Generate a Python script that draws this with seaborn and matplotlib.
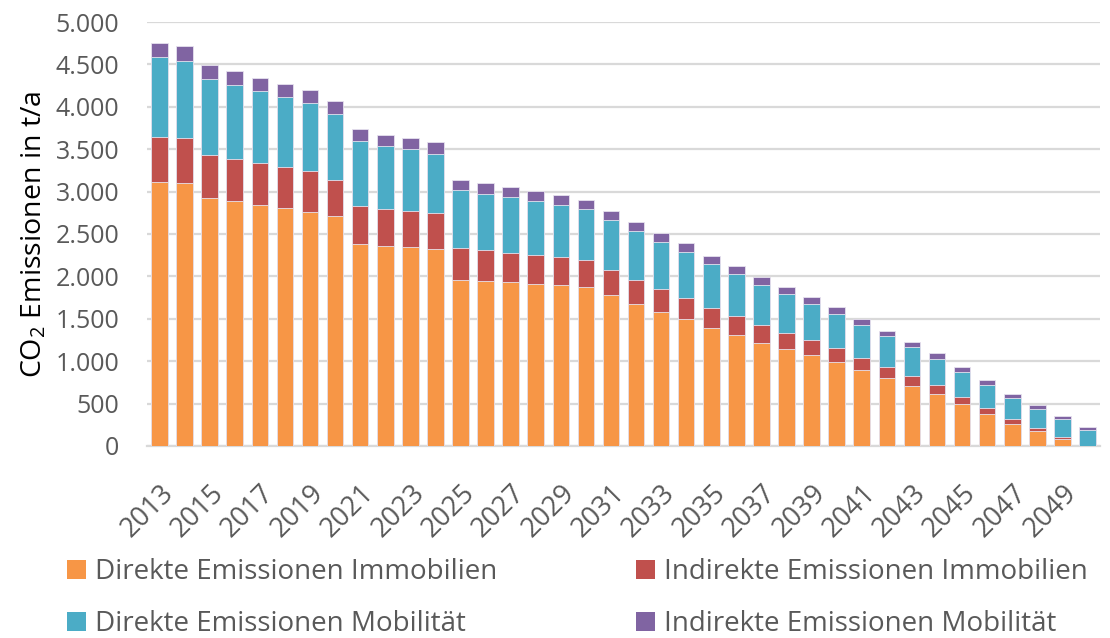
import numpy as np
import pandas as pd
import seaborn as sns
import matplotlib.pyplot as plt
from matplotlib.patches import Patch

# -------------------------
# Data (t CO2 per year)
# -------------------------
years = [str(y) for y in range(2013, 2051)]

direkt_immo = [3110, 3097, 2928, 2889, 2845, 2806, 2763, 2712, 2378, 2358,
               2346, 2327, 1961, 1949, 1933, 1913, 1902, 1878, 1780, 1680,
               1579, 1496, 1386, 1307, 1220, 1146, 1071, 992, 898, 803,
               709, 614, 492, 382, 264, 177, 87, 0]
indirekt_immo = [533, 530, 507, 499, 496, 487, 479, 428, 456, 440,
                 430, 417, 370, 358, 343, 335, 322, 315, 299, 283,
                 267, 252, 236, 221, 201, 189, 173, 158, 145, 130,
                 118, 103, 87, 71, 55, 36, 19, 0]
direkt_mob = [940, 912, 888, 864, 841, 818, 798, 774, 758, 744,
              724, 705, 685, 669, 657, 642, 622, 602, 586, 573,
              559, 539, 524, 500, 481, 452, 429, 405, 382, 358,
              338, 311, 295, 267, 252, 228, 209, 185]
indirekt_mob = [173, 173, 165, 165, 161, 157, 153, 154, 142, 131,
                130, 130, 122, 126, 118, 114, 111, 107, 107, 107,
                107, 103, 98, 98, 90, 87, 79, 79, 73, 67,
                59, 63, 59, 56, 43, 39, 39, 39]

series_names = ["Direkte Emissionen Immobilien", "Indirekte Emissionen Immobilien",
                "Direkte Emissionen Mobilität", "Indirekte Emissionen Mobilität"]
colors = ["#F79646", "#C0504D", "#4BACC6", "#8064A2"]

df = pd.DataFrame({
    "Jahr": years,
    series_names[0]: direkt_immo,
    series_names[1]: indirekt_immo,
    series_names[2]: direkt_mob,
    series_names[3]: indirekt_mob,
})
# cumulative sums -> stacked look by drawing the tallest layer first
cum = df[series_names].cumsum(axis=1)
cum["Jahr"] = df["Jahr"]

# -------------------------
# Styling
# -------------------------
sns.set_style("white")
plt.rcParams["font.family"] = ["Open Sans", "DejaVu Sans"]
plt.rcParams["mathtext.fontset"] = "custom"
plt.rcParams["mathtext.rm"] = "Open Sans"
plt.rcParams["mathtext.it"] = "Open Sans"
text_color = "#595959"
grid_color = "#D9D9D9"

fig = plt.figure(figsize=(11.1, 6.38), dpi=100)
ax = fig.add_axes([0.1324, 0.301, 0.8586, 0.6645])

for name, col in reversed(list(zip(series_names, colors))):
    sns.barplot(data=cum, x="Jahr", y=name, color=col, width=0.66,
                edgecolor="#E6E2EE", linewidth=0.6, ax=ax, saturation=1,
                zorder=3)

ax.set_ylim(0, 5000)
ax.set_xlim(-0.5, len(years) - 0.5)
ax.set_yticks(np.arange(0, 5001, 500))
ax.set_yticklabels([f"{int(v):,}".replace(",", ".") for v in np.arange(0, 5001, 500)],
                   fontsize=18, color=text_color)
ax.yaxis.grid(True, color=grid_color, linewidth=1.6, zorder=0)
ax.set_axisbelow(True)

ax.set_xticks(range(len(years)))
ax.set_xticklabels([y if i % 2 == 0 else "" for i, y in enumerate(years)],
                   rotation=45, ha="right", va="top", rotation_mode="anchor",
                   fontsize=19.5, color=text_color)
ax.tick_params(axis="x", which="major", length=0, pad=24)
ax.set_xticks(np.arange(-0.5, len(years), 1), minor=True)
ax.tick_params(axis="x", which="minor", length=9, width=1.3, color=grid_color)
ax.tick_params(axis="y", length=0, pad=20)

for s in ["top", "right", "left"]:
    ax.spines[s].set_visible(False)
ax.spines["bottom"].set_color(grid_color)
ax.spines["bottom"].set_linewidth(1.6)

ax.set_xlabel("")
ax.set_ylabel("CO$_2$ Emissionen in t/a", fontsize=20.5, color="black", labelpad=5)

handles = [Patch(facecolor=c, edgecolor="none") for c in colors]
order = [0, 2, 1, 3]
fig.legend([handles[i] for i in order], [series_names[i] for i in order],
           loc="center left", bbox_to_anchor=(0.0505, 0.0627), ncol=2,
           frameon=False, fontsize=20, labelcolor=text_color,
           handlelength=0.68, handleheight=0.68, handletextpad=0.32,
           columnspacing=5.0, labelspacing=0.85, borderaxespad=0)

plt.savefig("out.png", dpi=100)
plt.close()
